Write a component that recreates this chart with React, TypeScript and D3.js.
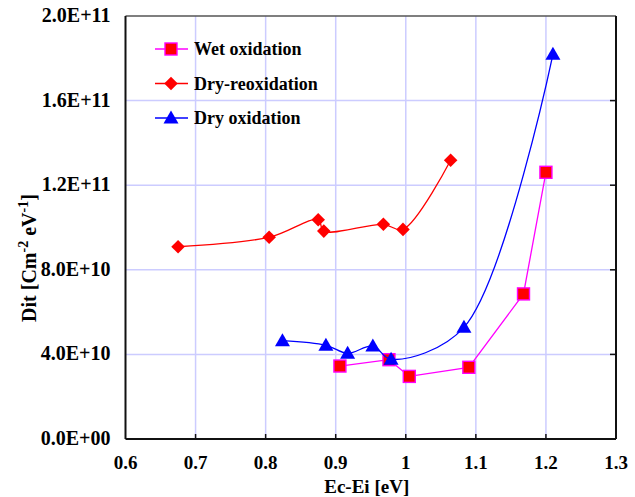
import React, { useEffect, useRef } from 'react';
import * as d3 from 'd3';

// Ec-Ei [eV] and Dit values
const wetX = [0.906, 0.976, 1.005, 1.090, 1.168, 1.200];
const wetY = [3.45e10, 3.75e10, 2.96e10, 3.39e10, 6.86e10, 1.261e11];

const reoxX = [0.675, 0.805, 0.875, 0.883, 0.968, 0.996, 1.064];
const reoxY = [9.09e10, 9.54e10, 1.037e11, 9.83e10, 1.015e11, 9.91e10, 1.318e11];

const dryX = [0.824, 0.886, 0.917, 0.953, 0.979, 1.083, 1.210];
const dryY = [4.65e10, 4.43e10, 4.05e10, 4.40e10, 3.77e10, 5.28e10, 1.819e11];

const xTicks = [0.6, 0.7, 0.8, 0.9, 1.0, 1.1, 1.2, 1.3];
const yTicks = [0, 4e10, 8e10, 1.2e11, 1.6e11, 2e11];
const yTickLabels = ['0.0E+00', '4.0E+10', '8.0E+10', '1.2E+11', '1.6E+11', '2.0E+11'];

const W = 635;
const H = 497;
const margin = { left: 125.5, right: 19, top: 16, bottom: 58 };
const font = '"Liberation Serif", "Times New Roman", serif';

export default function App() {
  const svgRef = useRef(null);

  useEffect(() => {
    document.body.style.margin = '0';
    const svg = d3.select(svgRef.current);
    svg.selectAll('*').remove();

    const x = d3.scaleLinear().domain([0.6, 1.3]).range([margin.left, W - margin.right]);
    const y = d3.scaleLinear().domain([0, 2e11]).range([H - margin.bottom, margin.top]);

    // grid
    svg.append('g')
      .selectAll('line')
      .data(xTicks.slice(1, -1))
      .join('line')
      .attr('x1', d => x(d)).attr('x2', d => x(d))
      .attr('y1', y(0)).attr('y2', y(2e11))
      .attr('stroke', '#ccccff').attr('stroke-width', 1.5);
    svg.append('g')
      .selectAll('line')
      .data(yTicks.slice(1, -1))
      .join('line')
      .attr('x1', x(0.6)).attr('x2', x(1.3))
      .attr('y1', d => y(d)).attr('y2', d => y(d))
      .attr('stroke', '#ccccff').attr('stroke-width', 1.5);

    // frame
    svg.append('line').attr('x1', x(0.6)).attr('x2', x(1.3)).attr('y1', y(2e11)).attr('y2', y(2e11))
      .attr('stroke', '#555').attr('stroke-width', 1.5);
    svg.append('line').attr('x1', x(1.3)).attr('x2', x(1.3)).attr('y1', y(2e11)).attr('y2', y(0))
      .attr('stroke', '#111').attr('stroke-width', 2);
    svg.append('line').attr('x1', x(0.6)).attr('x2', x(0.6)).attr('y1', y(2e11)).attr('y2', y(0))
      .attr('stroke', '#111').attr('stroke-width', 2);
    svg.append('line').attr('x1', x(0.6)).attr('x2', x(1.3)).attr('y1', y(0)).attr('y2', y(0))
      .attr('stroke', '#111').attr('stroke-width', 2);

    // inward ticks
    svg.append('g').selectAll('line')
      .data(xTicks.slice(1, -1))
      .join('line')
      .attr('x1', d => x(d)).attr('x2', d => x(d))
      .attr('y1', y(0)).attr('y2', y(0) - 5)
      .attr('stroke', '#111').attr('stroke-width', 1.5);
    svg.append('g').selectAll('line')
      .data(yTicks.slice(1, -1))
      .join('line')
      .attr('x1', x(1.3)).attr('x2', x(1.3) - 6)
      .attr('y1', d => y(d)).attr('y2', d => y(d))
      .attr('stroke', '#111').attr('stroke-width', 1.5);

    // tick labels
    svg.append('g').selectAll('text')
      .data(xTicks)
      .join('text')
      .attr('x', d => x(d)).attr('y', y(0) + 30)
      .attr('text-anchor', 'middle')
      .attr('font-family', font).attr('font-weight', 'bold').attr('font-size', 19)
      .text(d => d3.format('')(+d.toFixed(1)));
    svg.append('g').selectAll('text')
      .data(yTicks)
      .join('text')
      .attr('x', x(0.6) - 15).attr('y', d => y(d) + 6)
      .attr('text-anchor', 'end')
      .attr('font-family', font).attr('font-weight', 'bold').attr('font-size', 20)
      .text((d, i) => yTickLabels[i]);

    // axis titles
    svg.append('text')
      .attr('x', (x(0.6) + x(1.3)) / 2 - 4).attr('y', H - 4)
      .attr('text-anchor', 'middle')
      .attr('font-family', font).attr('font-weight', 'bold').attr('font-size', 19)
      .text('Ec-Ei [eV]');
    const yt = svg.append('text')
      .attr('transform', `translate(36, 258) rotate(-90)`)
      .attr('text-anchor', 'middle')
      .attr('font-family', font).attr('font-weight', 'bold').attr('font-size', 20);
    yt.append('tspan').text('Dit [Cm');
    yt.append('tspan').attr('dy', -8).attr('font-size', 14).text('-2');
    yt.append('tspan').attr('dy', 8).text(' eV');
    yt.append('tspan').attr('dy', -8).attr('font-size', 14).text('-1');
    yt.append('tspan').attr('dy', 8).text(']');

    const series = [
      { name: 'Wet oxidation', xs: wetX, ys: wetY, color: '#ff00ff', curve: d3.curveLinear, marker: 'square' },
      { name: 'Dry-reoxidation', xs: reoxX, ys: reoxY, color: '#ff0000', curve: d3.curveCatmullRom.alpha(0.5), marker: 'diamond' },
      { name: 'Dry oxidation', xs: dryX, ys: dryY, color: '#0000ff', curve: d3.curveCatmullRom.alpha(0.5), marker: 'triangle' },
    ];

    const drawMarker = (g, kind, cx, cy) => {
      if (kind === 'square') {
        g.append('rect').attr('x', cx - 6).attr('y', cy - 6).attr('width', 12).attr('height', 12)
          .attr('fill', '#ff0000').attr('stroke', '#ff00ff').attr('stroke-width', 1.4);
      } else if (kind === 'diamond') {
        g.append('path')
          .attr('d', d3.symbol(d3.symbolSquare, 92)())
          .attr('transform', `translate(${cx},${cy}) rotate(45)`)
          .attr('fill', '#ff0000');
      } else {
        g.append('path')
          .attr('d', `M${cx},${cy - 7.5}L${cx + 7.5},${cy + 5.5}L${cx - 7.5},${cy + 5.5}Z`)
          .attr('fill', '#0000ff');
      }
    };

    series.forEach(s => {
      const pts = s.xs.map((v, i) => [v, s.ys[i]]);
      const line = d3.line().x(d => x(d[0])).y(d => y(d[1])).curve(s.curve);
      svg.append('path').attr('d', line(pts)).attr('fill', 'none')
        .attr('stroke', s.color).attr('stroke-width', 1.3);
      const g = svg.append('g');
      pts.forEach(p => drawMarker(g, s.marker, x(p[0]), y(p[1])));
    });

    // legend
    const lg = svg.append('g');
    series.forEach((s, i) => {
      const ly = 49 + i * 34.5;
      lg.append('line').attr('x1', 155).attr('x2', 188).attr('y1', ly).attr('y2', ly)
        .attr('stroke', s.color).attr('stroke-width', 1.3);
      drawMarker(lg, s.marker, 171, ly);
      lg.append('text').attr('x', 194).attr('y', ly + 6)
        .attr('font-family', font).attr('font-weight', 'bold').attr('font-size', 18)
        .text(s.name);
    });
  }, []);

  return (
    <svg ref={svgRef} width={W} height={H} style={{ display: 'block', background: '#fff' }} />
  );
}
